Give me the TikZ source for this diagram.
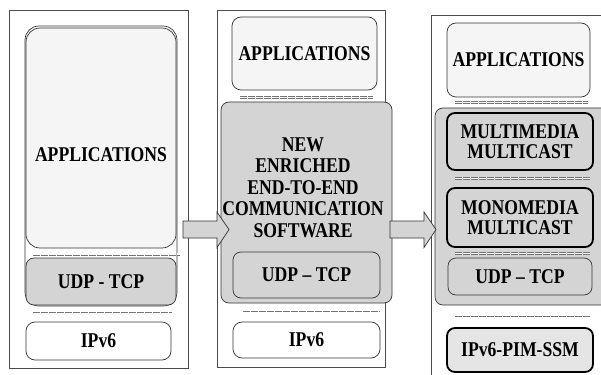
\documentclass[tikz,border=0pt]{standalone}
\usepackage{fontspec}
\newfontfamily\layerfont{Liberation Serif}[FakeStretch=0.84]
\usetikzlibrary{positioning,calc}

\tikzset{
  panel/.style={draw=black!70, line width=0.7pt, fill=white},
  appbox/.style={draw=black!80, line width=0.7pt, rounded corners=9pt, fill=black!4, inner sep=0pt},
  layer/.style={draw=black!80, line width=0.7pt, rounded corners=8pt, fill=black!17, inner sep=0pt},
  thicklayer/.style={layer, draw=black, line width=1.8pt},
  boxsize/.style 2 args={minimum width=#1, minimum height=#2},
  txt/.style={font=\layerfont\bfseries\fontsize{21}{21.5}\selectfont, align=center, text=black},
  sepline/.style={draw=black!55, line width=0.6pt, double=white, double distance=1.8pt, dash pattern=on 7pt off 1pt},
  blockarrow/.style={draw=black!80, line width=0.7pt, fill=black!17, line join=miter},
}

% block arrow, starting at the tail
\newcommand{\layerarrow}[1]{%
  \draw[blockarrow] (#1) ++(0,-8.5) -- ++(34,0) -- ++(0,-9) -- ++(12,17.5)
    -- ++(-12,18) -- ++(0,-9.5) -- ++(-34,0) -- cycle;}

\begin{document}
\begin{tikzpicture}[x=1pt,y=-1pt]
    \useasboundingbox (0,0) rectangle (601,374);

    % first stack
    \node[panel, boxsize={179pt}{358pt}] at (98.5,189) (p1) {};
    \node[appbox, fill=white, rounded corners=14pt, boxsize={152pt}{280pt}] at (101,166) (stack1) {};
    \node[appbox, rounded corners=14pt, boxsize={150pt}{220pt}, label={[txt,yshift=-17pt]center:APPLICATIONS}] at (101,138) (app1) {};
    \node[layer, txt, boxsize={150pt}{47pt}] at (101,281.5) (udp1) {UDP - TCP};
    \node[appbox, fill=white, txt, boxsize={145pt}{38pt}] at (98.5,341) (ip1) {IPv6};
    \draw[sepline] (33,254) -- (180,254);
    \draw[sepline] (33,311) -- (172,311);

    % second stack
    \node[panel, boxsize={168pt}{357pt}] at (301,188.5) (p2) {};
    \node[appbox, txt, boxsize={145pt}{73pt}] at (304.5,53.5) (app2) {APPLICATIONS};
    \node[layer, boxsize={171pt}{201pt},
      label={[txt,yshift=15pt,xshift=-3.5pt]center:NEW\\ENRICHED\\END-TO-END\\COMMUNICATION\\SOFTWARE}]
      at (306.5,202.5) (soft2) {};
    \node[layer, txt, boxsize={147pt}{46pt}] at (306.5,275) (udp2) {UDP \textendash{} TCP};
    \node[appbox, fill=white, txt, boxsize={147pt}{36pt}] at (306.5,340) (ip2) {IPv6};
    \draw[sepline] (240,97.5) -- (373,97.5);
    \draw[sepline] (243,310) -- (380,310);

    % third stack
    \begin{scope}
    \clip (0,0) rectangle (601,374);
    \node[panel, boxsize={179pt}{365pt}] at (520.5,197.5) (p3) {};
    \node[appbox, txt, boxsize={143pt}{74pt}] at (518.5,60) (app3) {APPLICATIONS};
    \node[layer, boxsize={175pt}{197pt}] at (522.5,206.5) (mcast3) {};
    \node[thicklayer, txt, boxsize={146pt}{57pt}] at (520,141.5) (multi3) {MULTIMEDIA\\[-2pt]MULTICAST};
    \node[thicklayer, txt, boxsize={146pt}{59pt}] at (520,217.5) (mono3) {MONOMEDIA\\[-2pt]MULTICAST};
    \node[layer, txt, boxsize={144pt}{37pt}] at (520,276.5) (udp3) {UDP \textendash{} TCP};
    \node[thicklayer, fill=black!10, txt, boxsize={146pt}{44pt}] at (520,350) (ssm3) {IPv6-PIM-SSM};
    \draw[sepline] (455,102.5) -- (588,102.5);
    \draw[sepline] (455,178.5) -- (590,178.5);
    \draw[sepline] (455,253.5) -- (590,253.5);
    \draw[sepline] (455,315) -- (590,315);
    \end{scope}

    % arrows between the stacks
    \coordinate (a1) at (183,229.5);
    \coordinate (a2) at (390,229.5);
    \layerarrow{a1}
    \layerarrow{a2}
\end{tikzpicture}
\end{document}
